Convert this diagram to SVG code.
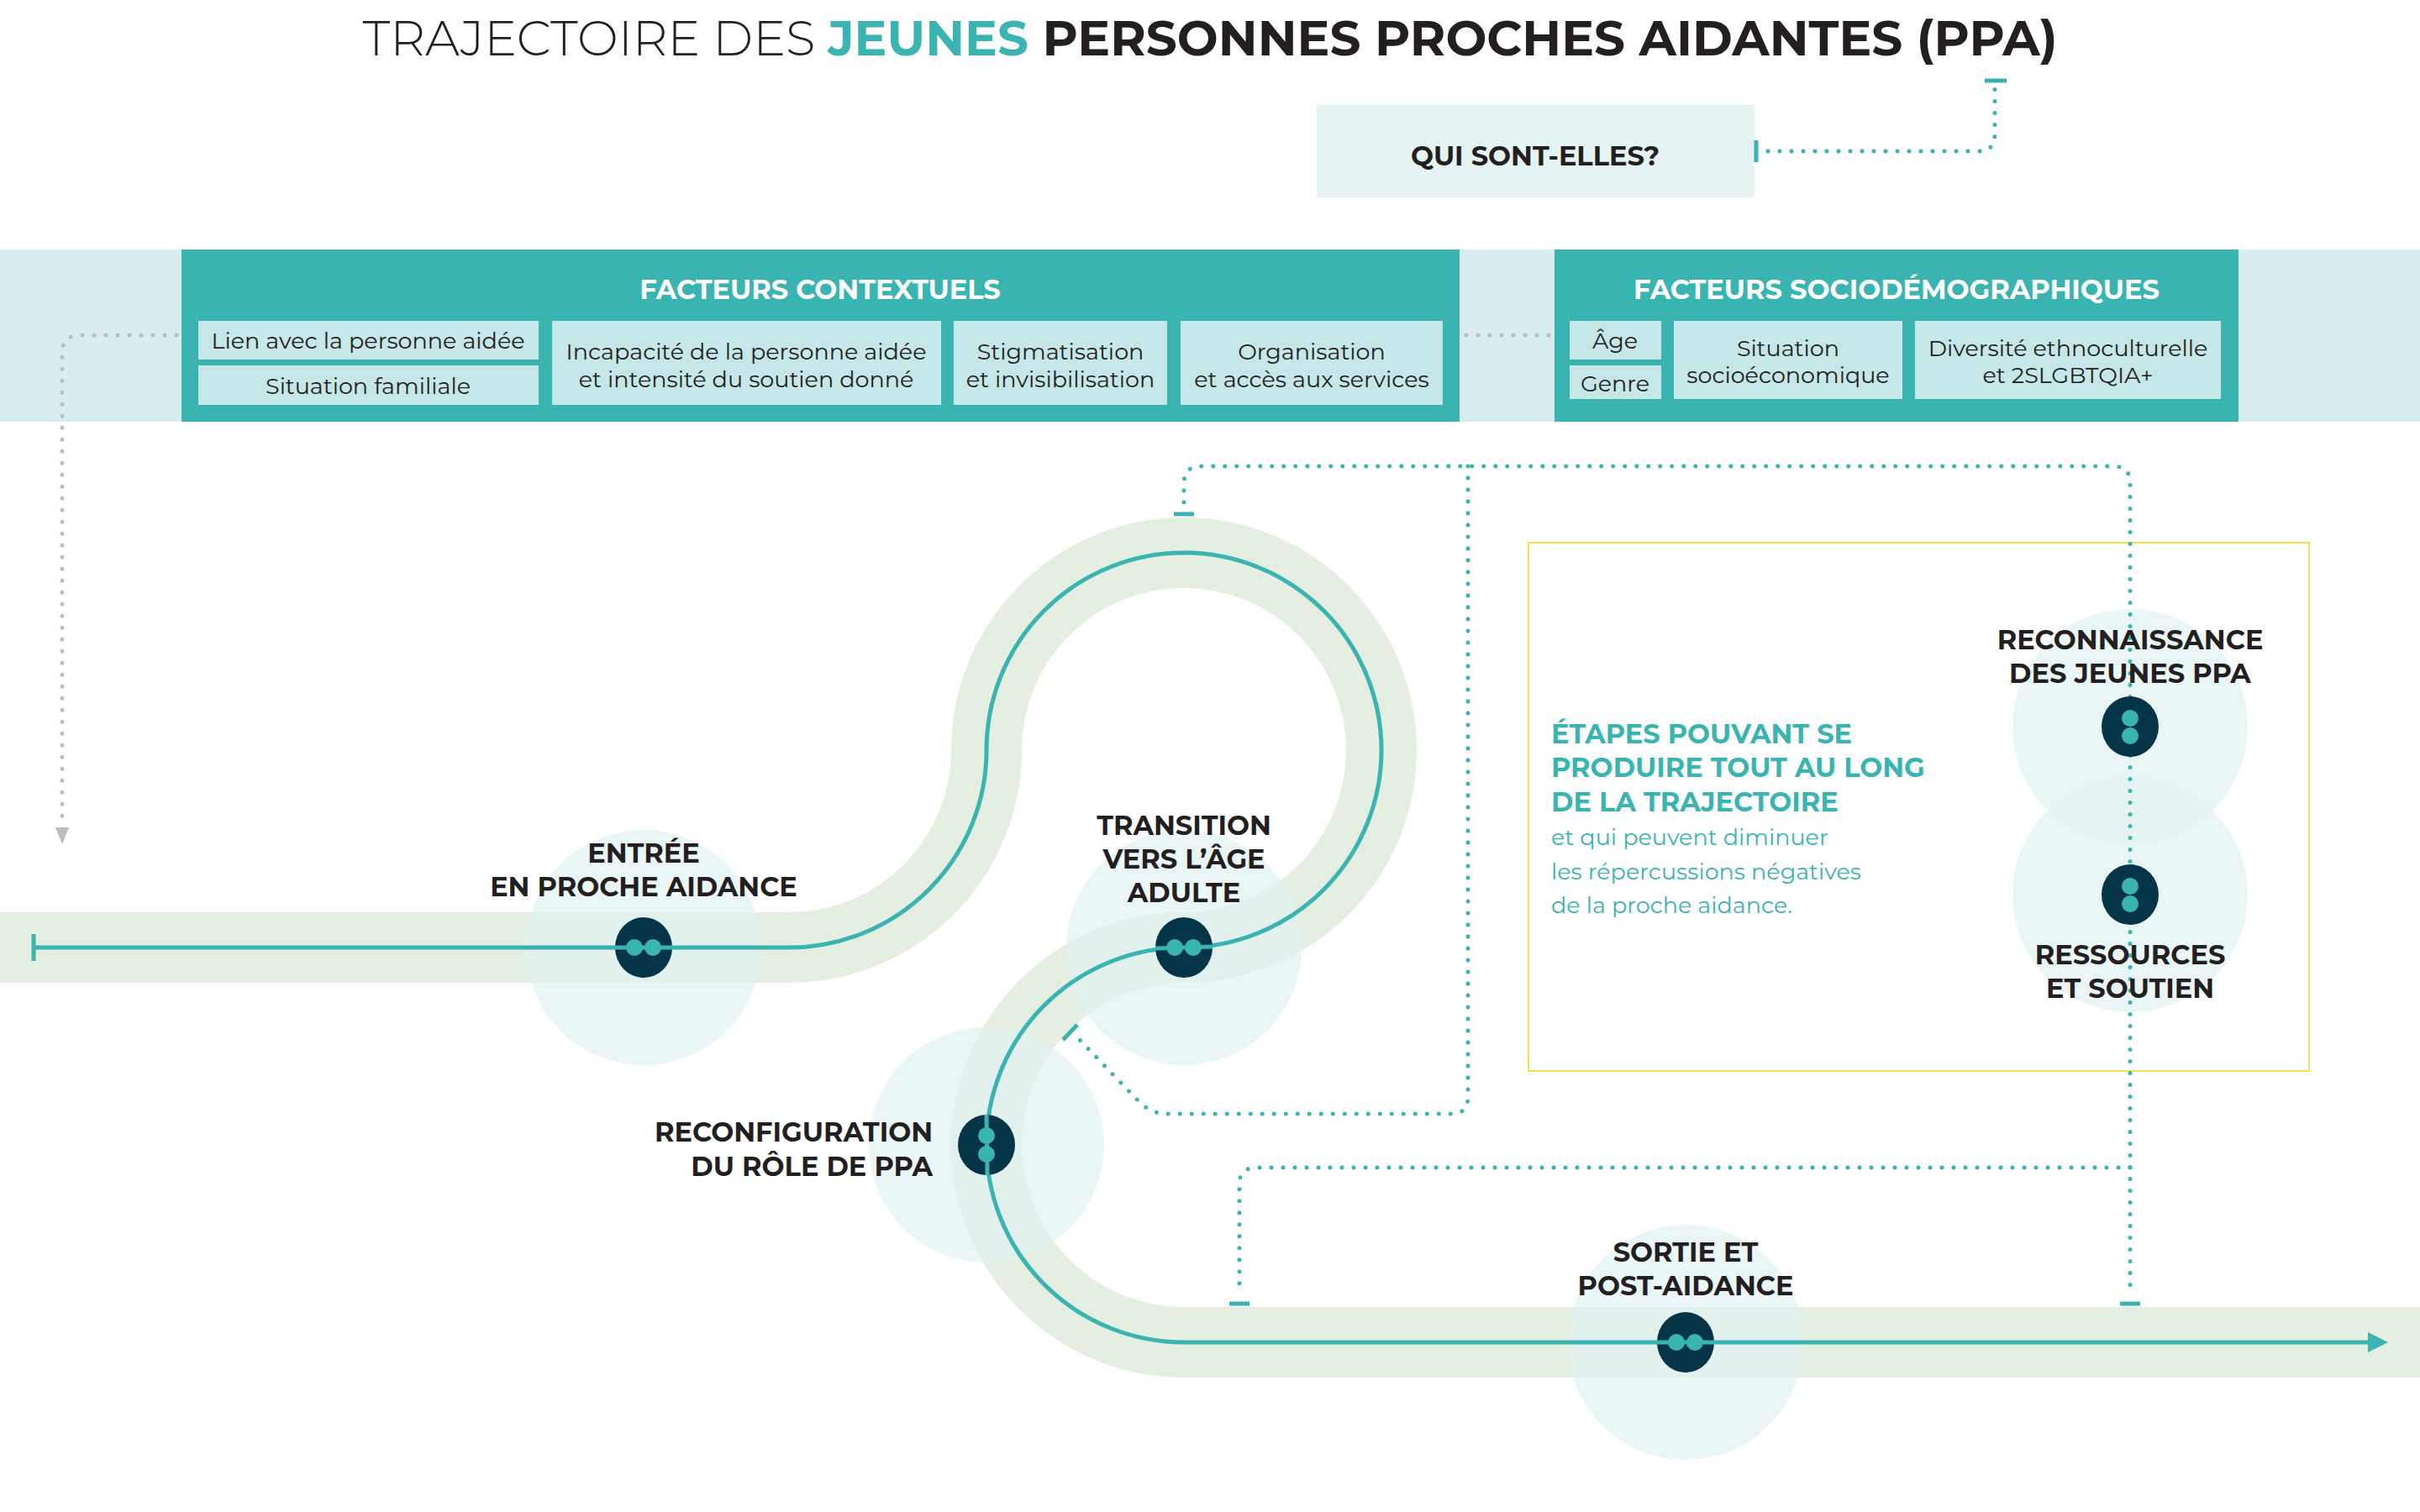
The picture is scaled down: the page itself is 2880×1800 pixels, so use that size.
<svg xmlns="http://www.w3.org/2000/svg" width="2880" height="1800" viewBox="0 0 2880 1800">
<style>
.lbl{font-family:"Montserrat","Noto Sans",sans-serif;font-weight:700;font-size:32px;fill:#231f20;text-anchor:middle}
.lblr{font-family:"Montserrat","Noto Sans",sans-serif;font-weight:700;font-size:32px;fill:#231f20;text-anchor:end}
.sub{font-family:"Montserrat","Noto Sans",sans-serif;font-size:27px;fill:#231f20;text-anchor:middle}
.hd{font-family:"Montserrat","Noto Sans",sans-serif;font-weight:700;font-size:32px;fill:#fff;text-anchor:middle}
.sb{fill:#c6e7e7}
.dot{fill:none;stroke:#3ab4b0;stroke-width:5;stroke-linecap:round;stroke-dasharray:0 14}
.gdot{fill:none;stroke:#bdbdbd;stroke-width:5;stroke-linecap:round;stroke-dasharray:0 14}
.tick{stroke:#3ab4b0;stroke-width:5;fill:none}
.halo{fill:#e3f1f1;opacity:0.75}
.node{fill:#053546}
.pip{fill:#3ab4b0}
.seg{stroke:#3ab4b0;stroke-width:5}
.tl{font-family:"Montserrat","Noto Sans",sans-serif;font-weight:700;font-size:32px;fill:#3ab4b0}
.ts{font-family:"Montserrat","Noto Sans",sans-serif;font-size:27px;fill:#3ab4b0}
</style>
<defs>
<marker id="tarr" viewBox="0 0 10 10" refX="5" refY="5" markerWidth="30" markerHeight="24" orient="auto" markerUnits="userSpaceOnUse"><path d="M0,0 L10,5 L0,10 z" fill="#3ab4b0"/></marker>
</defs>
<rect width="2880" height="1800" fill="#fff"/>
<text x="1440" y="66" text-anchor="middle" font-family="Montserrat,'Noto Sans',sans-serif" font-size="58" fill="#231f20"><tspan font-weight="300">TRAJECTOIRE DES </tspan><tspan font-weight="700" fill="#3ab4b0">JEUNES</tspan><tspan font-weight="700"> PERSONNES PROCHES AIDANTES (PPA)</tspan></text>

<g id="qui">
<rect x="1567" y="125" width="521" height="110" fill="#e6f3f3"/>
<text class="lbl" x="1827" y="197" font-size="30">QUI SONT-ELLES?</text>
</g>

<g id="band">
<rect x="0" y="297" width="2880" height="205" fill="#d8eded"/>
</g>
<g id="contextuels">
<rect x="216" y="297" width="1521" height="205" fill="#3ab4b0"/>
<text class="hd" x="976" y="356">FACTEURS CONTEXTUELS</text>
<rect class="sb" x="236" y="382" width="405" height="46"/>
<text class="sub" x="438" y="415">Lien avec la personne aidée</text>
<rect class="sb" x="236" y="435" width="405" height="47"/>
<text class="sub" x="438" y="469">Situation familiale</text>
<rect class="sb" x="657" y="382" width="463" height="100"/>
<text class="sub" x="888" y="428">Incapacité de la personne aidée</text>
<text class="sub" x="888" y="461">et intensité du soutien donné</text>
<rect class="sb" x="1135" y="382" width="254" height="100"/>
<text class="sub" x="1262" y="428">Stigmatisation</text>
<text class="sub" x="1262" y="461">et invisibilisation</text>
<rect class="sb" x="1405" y="382" width="312" height="100"/>
<text class="sub" x="1561" y="428">Organisation</text>
<text class="sub" x="1561" y="461">et accès aux services</text>
</g>
<g id="socio">
<rect x="1850" y="297" width="814" height="205" fill="#3ab4b0"/>
<text class="hd" x="2257" y="356">FACTEURS SOCIODÉMOGRAPHIQUES</text>
<rect class="sb" x="1868" y="382" width="109" height="46"/>
<text class="sub" x="1922" y="415">Âge</text>
<rect class="sb" x="1868" y="435" width="109" height="40"/>
<text class="sub" x="1922" y="466">Genre</text>
<rect class="sb" x="1992" y="382" width="272" height="93"/>
<text class="sub" x="2128" y="424">Situation</text>
<text class="sub" x="2128" y="456">socioéconomique</text>
<rect class="sb" x="2279" y="382" width="364" height="93"/>
<text class="sub" x="2461" y="424">Diversité ethnoculturelle</text>
<text class="sub" x="2461" y="456">et 2SLGBTQIA+</text>
</g>

<g id="path">
<path d="M0,1128 H939 A235,235 0 0 0 1174,893 A235,235 0 1 1 1409,1128 A235,235 0 0 0 1174,1363 A235,235 0 0 0 1409,1598 H2880" fill="none" stroke="#e4efe2" stroke-width="84"/>
</g>

<g id="halos">
<circle class="halo" cx="766" cy="1128" r="140"/>
<circle class="halo" cx="1409" cy="1128" r="140"/>
<circle class="halo" cx="1174" cy="1363" r="140"/>
<circle class="halo" cx="2006" cy="1598" r="140"/>
<circle class="halo" cx="2535" cy="865" r="140"/>
<circle class="halo" cx="2535" cy="1065" r="140"/>
</g>

<g id="box">
<rect x="1819" y="646" width="929" height="629" fill="none" stroke="#f6e04c" stroke-width="2"/>
<text class="tl" x="1846" y="885">ÉTAPES POUVANT SE</text>
<text class="tl" x="1846" y="925">PRODUIRE TOUT AU LONG</text>
<text class="tl" x="1846" y="966">DE LA TRAJECTOIRE</text>
<text class="ts" x="1846" y="1006">et qui peuvent diminuer</text>
<text class="ts" x="1846" y="1047">les répercussions négatives</text>
<text class="ts" x="1846" y="1087">de la proche aidance.</text>
</g>

<g id="connectors">
<path d="M40,1128 H939 A235,235 0 0 0 1174,893 A235,235 0 1 1 1409,1128 A235,235 0 0 0 1174,1363 A235,235 0 0 0 1409,1598 H2830" fill="none" stroke="#3ab4b0" stroke-width="5" marker-end="url(#tarr)"/>
<line x1="40" y1="1112" x2="40" y2="1144" class="tick"/>
<path class="dot" d="M2104,180 H2355 Q2374,180 2374,160 V105"/>
<line class="tick" x1="2090" y1="167" x2="2090" y2="193"/>
<line class="tick" x1="2362" y1="96" x2="2388" y2="96"/>
<path class="dot" d="M1409,598 V575 Q1409,555 1429,555 H2515 Q2535,555 2535,575 V1538"/>
<line class="tick" x1="1397" y1="612" x2="1421" y2="612"/>
<line class="tick" x1="2523" y1="1552" x2="2547" y2="1552"/>
<path class="dot" d="M1747,555 V1306 Q1747,1326 1727,1326 H1390 Q1370,1326 1356,1312 L1285,1238"/>
<line class="tick" x1="1265" y1="1238" x2="1282" y2="1220"/>
<path class="dot" d="M2535,1390 H1495 Q1475,1390 1475,1410 V1538"/>
<line class="tick" x1="1463" y1="1552" x2="1487" y2="1552"/>
<path class="gdot" d="M210,399 H95 Q74,399 74,420 V985"/>
<path d="M66,985 L74,1005 L82,985 z" fill="#bdbdbd"/>
<path class="gdot" d="M1745,399 H1845"/>
</g>

<g id="entree">
<ellipse class="node" cx="766" cy="1128" rx="34" ry="36"/>
<line class="seg" x1="732" y1="1128" x2="800" y2="1128"/>
<circle class="pip" cx="755" cy="1128" r="10"/><circle class="pip" cx="777" cy="1128" r="10"/>
<text class="lbl" x="766" y="1027">ENTRÉE</text>
<text class="lbl" x="766" y="1067">EN PROCHE AIDANCE</text>
</g>
<g id="transition">
<ellipse class="node" cx="1409" cy="1128" rx="34" ry="36"/>
<line class="seg" x1="1375" y1="1129" x2="1443" y2="1127"/>
<circle class="pip" cx="1398" cy="1128" r="10"/><circle class="pip" cx="1420" cy="1128" r="10"/>
<text class="lbl" x="1409" y="994">TRANSITION</text>
<text class="lbl" x="1409" y="1034">VERS L’ÂGE</text>
<text class="lbl" x="1409" y="1074">ADULTE</text>
</g>
<g id="reconfiguration">
<ellipse class="node" cx="1174" cy="1363" rx="34" ry="36"/>
<line class="seg" x1="1174" y1="1327" x2="1175" y2="1399"/>
<circle class="pip" cx="1174" cy="1352" r="10"/><circle class="pip" cx="1174" cy="1374" r="10"/>
<text class="lblr" x="1110" y="1359">RECONFIGURATION</text>
<text class="lblr" x="1110" y="1400">DU RÔLE DE PPA</text>
</g>
<g id="sortie">
<ellipse class="node" cx="2006" cy="1598" rx="34" ry="36"/>
<line class="seg" x1="1972" y1="1598" x2="2040" y2="1598"/>
<circle class="pip" cx="1995" cy="1598" r="10"/><circle class="pip" cx="2017" cy="1598" r="10"/>
<text class="lbl" x="2006" y="1502">SORTIE ET</text>
<text class="lbl" x="2006" y="1542">POST-AIDANCE</text>
</g>
<g id="reconnaissance">
<ellipse class="node" cx="2535" cy="865" rx="34" ry="36"/>
<circle class="pip" cx="2535" cy="855" r="10"/><circle class="pip" cx="2535" cy="876" r="10"/>
<text class="lbl" x="2535" y="773">RECONNAISSANCE</text>
<text class="lbl" x="2535" y="813">DES JEUNES PPA</text>
</g>
<g id="ressources">
<ellipse class="node" cx="2535" cy="1065" rx="34" ry="36"/>
<circle class="pip" cx="2535" cy="1055" r="10"/><circle class="pip" cx="2535" cy="1076" r="10"/>
<text class="lbl" x="2535" y="1148">RESSOURCES</text>
<text class="lbl" x="2535" y="1188">ET SOUTIEN</text>
</g>
</svg>
